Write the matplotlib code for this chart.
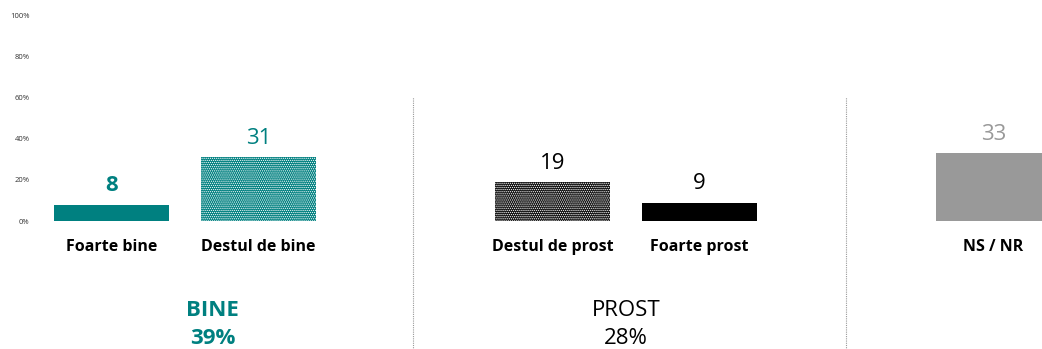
import matplotlib.pyplot as plt
from matplotlib.ticker import PercentFormatter

plt.rcParams['font.family'] = ['Open Sans', 'DejaVu Sans']
plt.rcParams['hatch.linewidth'] = 0.6

# survey answers
categories = ['Foarte bine', 'Destul de bine', 'Destul de prost', 'Foarte prost', 'NS / NR']
values = [8, 31, 19, 9, 33]
slots = [0, 1, 3, 4, 6]

groups = ['BINE', 'PROST']
group_totals = [39, 28]

teal = '#008080'
grey = '#999999'
faces = [teal, teal, '#111111', 'black', grey]
hatches = [None, '........', '........', None, None]
label_colors = [teal, teal, 'black', 'black', grey]
label_weights = ['bold', 'normal', 'normal', 'normal', 'normal']

fig = plt.figure(figsize=(10.42, 3.49), dpi=100)
ax = fig.add_axes([35 / 1042, 128 / 349, 1 - 35 / 1042, 205 / 349])

for x, v, fc, h, lc, lw in zip(slots, values, faces, hatches, label_colors, label_weights):
    ax.bar(x, v, width=0.78, color=fc, hatch=h,
           edgecolor='white' if h else fc, linewidth=0)
    ax.annotate(str(v), (x, v), xytext=(0, 6), textcoords='offset points',
                ha='center', va='bottom', fontsize=16, color=lc, fontweight=lw)

# category names under the bars
for x, name in zip(slots, categories):
    ax.text(x, -12.7, name, ha='center', va='center', fontsize=11.5,
            fontweight='bold', color='black')

# group totals
ax.text(0.69, -43.5, groups[0], ha='center', va='center', fontsize=16,
        fontweight='bold', color=teal)
ax.text(0.69, -57.5, f'{group_totals[0]}%', ha='center', va='center', fontsize=16,
        fontweight='bold', color=teal)
ax.text(3.5, -43.5, groups[1], ha='center', va='center', fontsize=16, color='black')
ax.text(3.5, -57.5, f'{group_totals[1]}%', ha='center', va='center', fontsize=16,
        color='black')

# dotted separators between groups
for xd in (2.05, 5.0):
    ax.vlines(xd, -63, 60.5, colors='#999999', linestyles=(0, (1, 1)),
              linewidth=0.8, clip_on=False)

ax.set_xlim(-0.52, 6.33)
ax.set_ylim(0, 100)
ax.set_yticks(range(0, 101, 20))
ax.yaxis.set_major_formatter(PercentFormatter(decimals=0))
ax.tick_params(axis='y', length=0, labelsize=5.5, labelcolor='#333333', pad=4)
ax.set_xticks([])
for s in ax.spines.values():
    s.set_visible(False)

fig.savefig('out.png', dpi=100)
